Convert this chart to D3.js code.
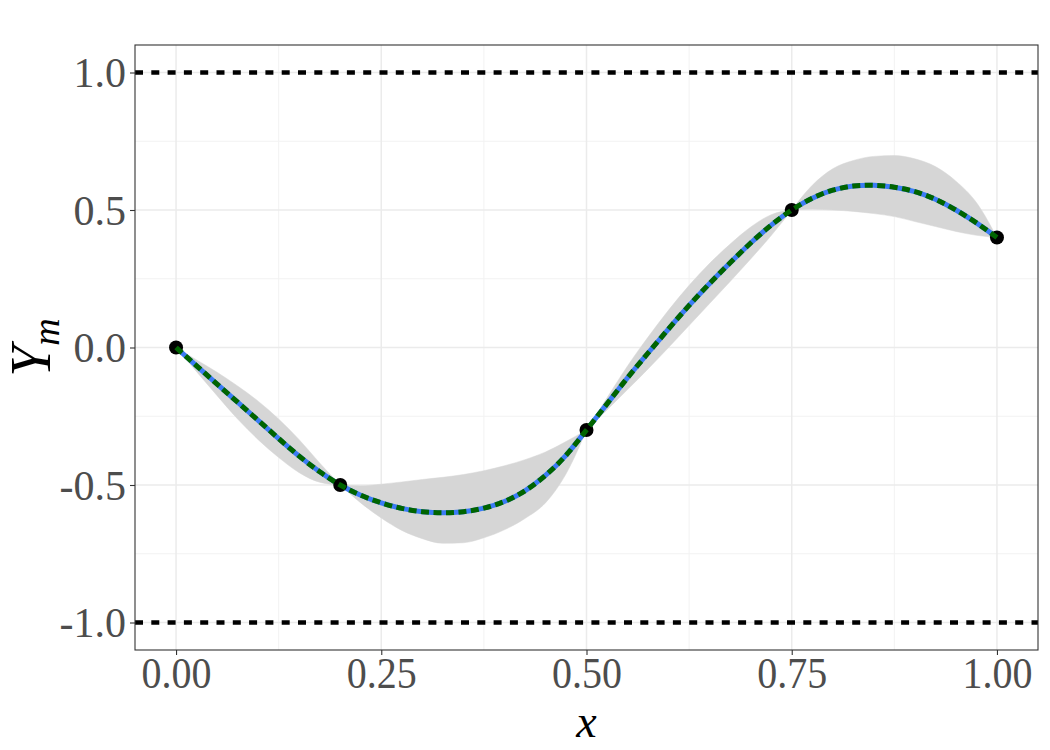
<!DOCTYPE html>
<html>
<head>
<meta charset="utf-8">
<script src="https://cdn.jsdelivr.net/npm/d3@7"></script>
<style>
  body { margin: 0; background: #fff; }
  svg { display: block; }
  .tick-label { font-family: "Liberation Serif", "DejaVu Serif", serif; fill: #4D4D4D; }
  .axis-title { font-family: "Liberation Serif", "DejaVu Serif", serif; font-style: italic; fill: #000; }
</style>
</head>
<body>
<svg id="chart"></svg>
<script>
const xs = [0, 0.025, 0.05, 0.075, 0.1, 0.125, 0.15, 0.175, 0.2, 0.225, 0.25, 0.275, 0.3, 0.325, 0.35, 0.375, 0.4,
  0.425, 0.45, 0.475, 0.5, 0.525, 0.55, 0.575, 0.6, 0.625, 0.65, 0.675, 0.7, 0.725, 0.75, 0.775, 0.8, 0.825,
  0.85, 0.875, 0.9, 0.925, 0.95, 0.975, 1.0];

const meanY = [0, -0.0665, -0.133, -0.199, -0.265, -0.331, -0.395, -0.452, -0.5, -0.537, -0.565, -0.585, -0.597,
  -0.601, -0.597, -0.584, -0.56, -0.521, -0.465, -0.392, -0.3, -0.205, -0.11, -0.02, 0.068, 0.153, 0.233, 0.308,
  0.38, 0.445, 0.5, 0.543, 0.572, 0.587, 0.59, 0.583, 0.567, 0.539, 0.5, 0.453, 0.4];

const upperY = [0, -0.045, -0.09, -0.14, -0.195, -0.26, -0.335, -0.42, -0.5, -0.503, -0.497, -0.489, -0.48,
  -0.472, -0.462, -0.448, -0.43, -0.408, -0.38, -0.342, -0.3, -0.183, -0.067, 0.038, 0.136, 0.226, 0.306, 0.376,
  0.438, 0.483, 0.5, 0.59, 0.65, 0.68, 0.695, 0.698, 0.686, 0.658, 0.605, 0.527, 0.4];

const lowerY = [0, -0.088, -0.175, -0.26, -0.335, -0.4, -0.455, -0.49, -0.5, -0.565, -0.62, -0.665, -0.695,
  -0.712, -0.71, -0.692, -0.663, -0.622, -0.565, -0.46, -0.3, -0.227, -0.153, -0.078, 0.0, 0.08, 0.16, 0.24,
  0.322, 0.407, 0.5, 0.503, 0.5, 0.495, 0.487, 0.476, 0.458, 0.44, 0.422, 0.408, 0.4];

// observed design points
const obsX = [0, 0.2, 0.5, 0.75, 1.0];
const obsY = [0, -0.5, -0.3, 0.5, 0.4];

// bounds drawn as dashed lines
const bounds = [-1, 1];

const xTicks = [0, 0.25, 0.5, 0.75, 1.0];
const xTickLabels = ["0.00", "0.25", "0.50", "0.75", "1.00"];
const xMinor = [0.125, 0.375, 0.625, 0.875];
const yTicks = [-1, -0.5, 0, 0.5, 1];
const yTickLabels = ["-1.0", "-0.5", "0.0", "0.5", "1.0"];
const yMinor = [-0.75, -0.25, 0.25, 0.75];

const W = 1050, H = 750;
const margin = { top: 45, right: 12, bottom: 100, left: 135 };

const svg = d3.select('#chart').attr('width', W).attr('height', H);

const x = d3.scaleLinear().domain([-0.05, 1.05]).range([margin.left, W - margin.right]);
const y = d3.scaleLinear().domain([-1.1, 1.1]).range([H - margin.bottom, margin.top]);

const rows = xs.map((d, i) => ({ x: d, m: meanY[i], lo: lowerY[i], hi: upperY[i] }));

// band pinches at each observation, so split it there (keeps the corners)
const segments = d3.pairs(obsX).map(([a, b]) => rows.filter(r => r.x >= a - 1e-9 && r.x <= b + 1e-9));

// grid
const grid = svg.append('g');
const vGrid = (vals, col, w) => grid.append('g').selectAll('line').data(vals).join('line')
  .attr('x1', d => x(d)).attr('x2', d => x(d))
  .attr('y1', y.range()[1]).attr('y2', y.range()[0])
  .attr('stroke', col).attr('stroke-width', w);
const hGrid = (vals, col, w) => grid.append('g').selectAll('line').data(vals).join('line')
  .attr('x1', x.range()[0]).attr('x2', x.range()[1])
  .attr('y1', d => y(d)).attr('y2', d => y(d))
  .attr('stroke', col).attr('stroke-width', w);
vGrid(xMinor, '#F2F2F2', 1);
hGrid(yMinor, '#F2F2F2', 1);
vGrid(xTicks, '#EBEBEB', 1.5);
hGrid(yTicks, '#EBEBEB', 1.5);

// uncertainty band
const area = d3.area()
  .x(d => x(d.x)).y0(d => y(d.lo)).y1(d => y(d.hi))
  .curve(d3.curveMonotoneX);
svg.append('g').selectAll('path').data(segments).join('path')
  .attr('d', area).attr('fill', '#D6D6D6').attr('stroke', '#D6D6D6').attr('stroke-width', 0.5);

// dashed bounds
svg.selectAll('.bound').data(bounds).join('line')
  .attr('class', 'bound')
  .attr('x1', x.range()[0]).attr('x2', x.range()[1])
  .attr('y1', d => y(d)).attr('y2', d => y(d))
  .attr('stroke', '#000').attr('stroke-width', 4.5)
  .attr('stroke-dasharray', '8,8.3');

const line = d3.line().x(d => x(d.x)).y(d => y(d.m)).curve(d3.curveNatural);

svg.append('path').datum(rows)
  .attr('d', line).attr('fill', 'none')
  .attr('stroke', '#3B7BF5').attr('stroke-width', 5);

svg.selectAll('.obs').data(obsX).join('circle')
  .attr('class', 'obs')
  .attr('cx', d => x(d)).attr('cy', (d, i) => y(obsY[i]))
  .attr('r', 7).attr('fill', '#000');

svg.append('path').datum(rows)
  .attr('d', line).attr('fill', 'none')
  .attr('stroke', '#006400').attr('stroke-width', 5)
  .attr('stroke-dasharray', '8,4.5');

// panel border
svg.append('rect')
  .attr('x', x.range()[0]).attr('y', y.range()[1])
  .attr('width', x.range()[1] - x.range()[0])
  .attr('height', y.range()[0] - y.range()[1])
  .attr('fill', 'none').attr('stroke', '#333').attr('stroke-width', 1.1);

// axes
const xAxis = svg.append('g').attr('transform', `translate(0,${y.range()[0]})`)
  .call(d3.axisBottom(x).tickValues(xTicks).tickSize(5).tickFormat((d, i) => xTickLabels[i]));
const yAxis = svg.append('g').attr('transform', `translate(${x.range()[0]},0)`)
  .call(d3.axisLeft(y).tickValues(yTicks).tickSize(5).tickFormat((d, i) => yTickLabels[i]));

[xAxis, yAxis].forEach(a => {
  a.select('.domain').remove();
  a.selectAll('.tick line').attr('stroke', '#333').attr('stroke-width', 1.1);
  a.selectAll('.tick text').attr('class', 'tick-label');
});
// x labels in the reference are drawn a bit taller than wide
xAxis.selectAll('.tick text')
  .attr('font-size', 40).attr('dy', null).attr('y', 0)
  .attr('transform', 'translate(0,38) scale(1,1.1)');
yAxis.selectAll('.tick text')
  .attr('font-size', 42).attr('x', -9).attr('dy', '0.34em');

// axis titles
svg.append('text').attr('class', 'axis-title')
  .attr('x', (x.range()[0] + x.range()[1]) / 2).attr('y', 737)
  .attr('text-anchor', 'middle').attr('font-size', 46).text('x');

const yt = svg.append('text').attr('class', 'axis-title')
  .attr('transform', `translate(50,${(y.range()[0] + y.range()[1]) / 2}) rotate(-90)`)
  .attr('text-anchor', 'middle').attr('font-size', 56);
yt.append('tspan').text('Y');
yt.append('tspan').attr('font-size', 38).attr('dy', 9).text('m');
</script>
</body>
</html>
